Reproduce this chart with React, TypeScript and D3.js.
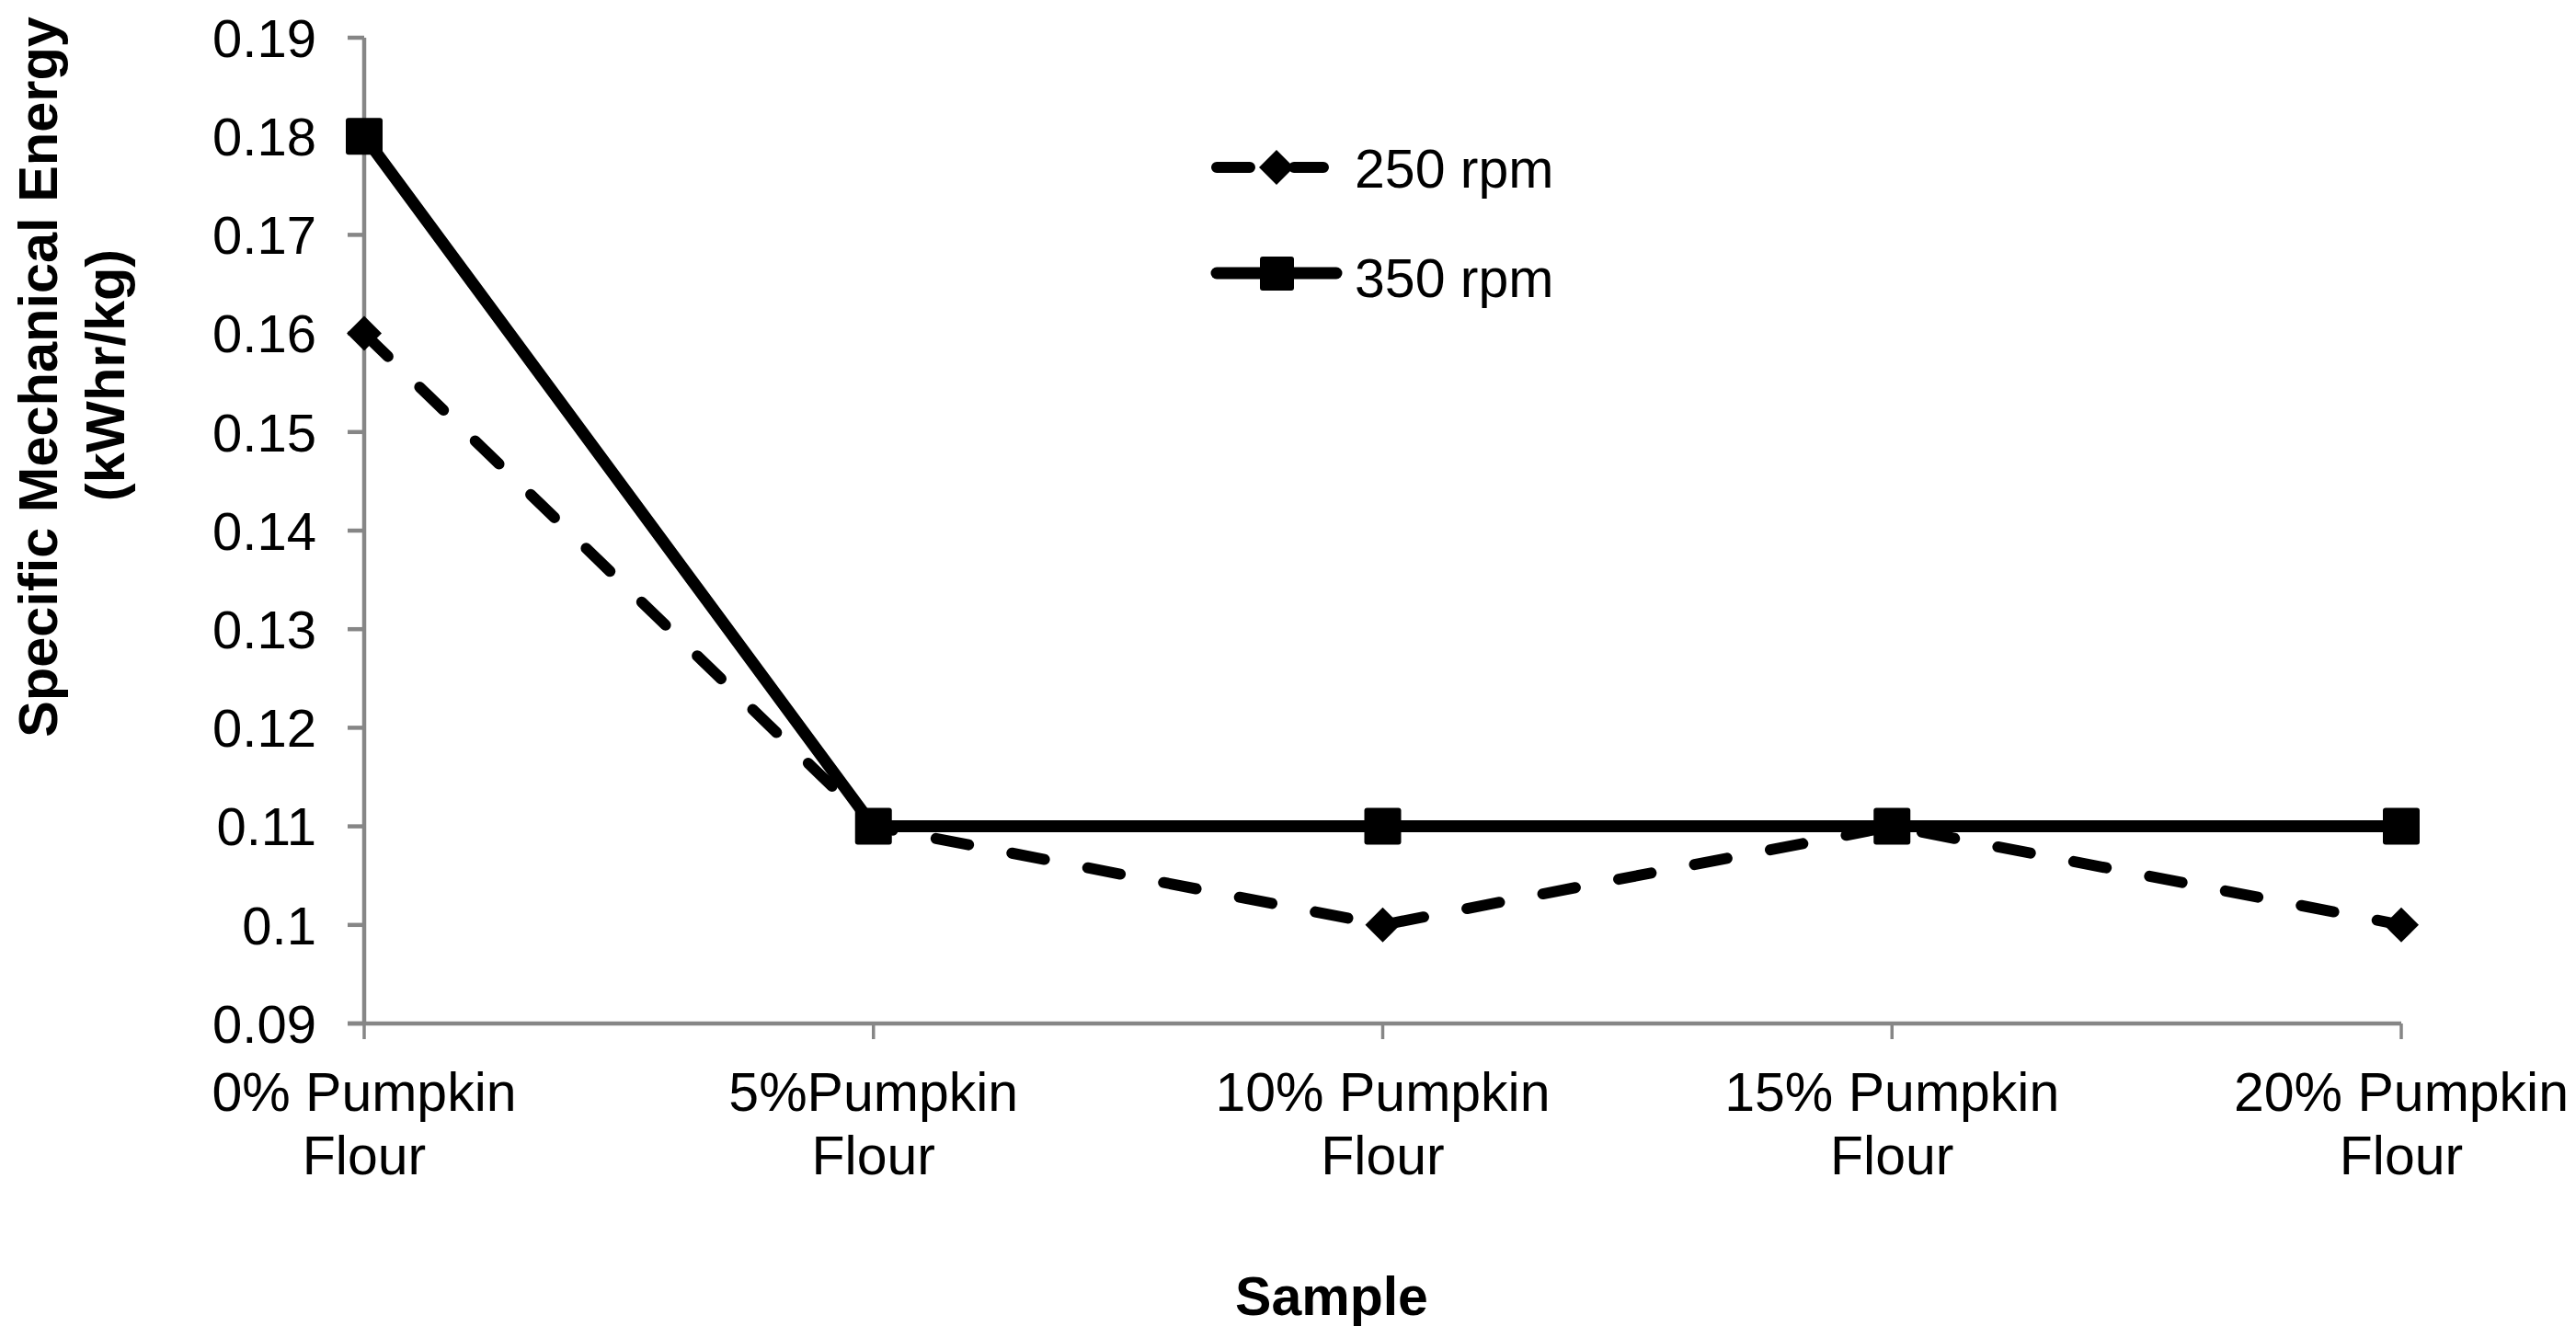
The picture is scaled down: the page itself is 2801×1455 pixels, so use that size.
import React from "react";
import * as d3 from "d3";

const categories = [
  ["0% Pumpkin", "Flour"],
  ["5%Pumpkin", "Flour"],
  ["10% Pumpkin", "Flour"],
  ["15% Pumpkin", "Flour"],
  ["20% Pumpkin", "Flour"],
];
const rpm250 = [0.16, 0.11, 0.1, 0.11, 0.1];
const rpm350 = [0.18, 0.11, 0.11, 0.11, 0.11];
const yTicks = [0.09, 0.1, 0.11, 0.12, 0.13, 0.14, 0.15, 0.16, 0.17, 0.18, 0.19];
const yTickLabels = ["0.09", "0.1", "0.11", "0.12", "0.13", "0.14", "0.15", "0.16", "0.17", "0.18", "0.19"];
const seriesNames = ["250 rpm", "350 rpm"];
const yTitle = ["Specific Mechanical Energy", "(kWhr/kg)"];
const xTitle = "Sample";

const W = 2801;
const H = 1455;
const FONT = "'Liberation Sans', Arial, Helvetica, sans-serif";
const AXIS = "#868686";

export default function App() {
  const idx = categories.map((_, i) => i);
  const x = d3.scalePoint<number>().domain(idx).range([396, 2611]).padding(0);
  const y = d3.scaleLinear().domain([0.09, 0.19]).range([1113, 41]);

  const line = d3
    .line<number>()
    .x((_, i) => x(i) as number)
    .y((d) => y(d));

  const diamond = (cx: number, cy: number, r: number) =>
    `M${cx},${cy - r}L${cx + r},${cy}L${cx},${cy + r}L${cx - r},${cy}Z`;

  const x0 = x(0) as number;
  const xEnd = x(categories.length - 1) as number;
  const yBase = y(0.09);

  return (
    <svg
      width={W}
      height={H}
      style={{ position: "absolute", left: 0, top: 0, background: "#fff" }}
      fontFamily={FONT}
    >
      <rect x={0} y={0} width={W} height={H} fill="#fff" />
      {/* Y axis */}
      <line x1={x0} x2={x0} y1={y(0.19)} y2={yBase + 2} stroke={AXIS} strokeWidth={4.5} />
      {yTicks.map((t, i) => (
        <g key={"yt" + i}>
          <line x1={x0 - 18} x2={x0} y1={y(t)} y2={y(t)} stroke={AXIS} strokeWidth={4.5} />
          <text x={344} y={y(t) + 20.8} textAnchor="end" fontSize={58} fill="#000">
            {yTickLabels[i]}
          </text>
        </g>
      ))}
      {/* X axis */}
      <line x1={x0 - 18} x2={xEnd} y1={yBase} y2={yBase} stroke={AXIS} strokeWidth={4.5} />
      {idx.map((i) => (
        <g key={"xt" + i}>
          <line x1={x(i)} x2={x(i)} y1={yBase} y2={yBase + 17} stroke={AXIS} strokeWidth={3.5} />
          <text x={x(i)} y={1208} textAnchor="middle" fontSize={59} fill="#000">
            {categories[i][0]}
          </text>
          <text x={x(i)} y={1277} textAnchor="middle" fontSize={59} fill="#000">
            {categories[i][1]}
          </text>
        </g>
      ))}
      {/* Axis titles */}
      <text x={1448} y={1430} textAnchor="middle" fontSize={59} fontWeight="bold" fill="#000">
        {xTitle}
      </text>
      <text
        transform={`translate(62,410) rotate(-90)`}
        textAnchor="middle"
        fontSize={59.5}
        fontWeight="bold"
        fill="#000"
      >
        {yTitle[0]}
      </text>
      <text
        transform={`translate(135,408) rotate(-90)`}
        textAnchor="middle"
        fontSize={59.5}
        fontWeight="bold"
        fill="#000"
      >
        {yTitle[1]}
      </text>

      {/* 250 rpm dashed */}
      <path
        d={line(rpm250) || ""}
        fill="none"
        stroke="#000"
        strokeWidth={12}
        strokeLinecap="round"
        strokeLinejoin="round"
        strokeDasharray="36 48"
      />
      {rpm250.map((v, i) => (
        <path key={"d" + i} d={diamond(x(i) as number, y(v), 19)} fill="#000" />
      ))}

      {/* 350 rpm solid */}
      <path
        d={line(rpm350) || ""}
        fill="none"
        stroke="#000"
        strokeWidth={13}
        strokeLinejoin="round"
      />
      {rpm350.map((v, i) => (
        <rect
          key={"s" + i}
          x={(x(i) as number) - 20}
          y={y(v) - 20}
          width={40}
          height={40}
          rx={3}
          fill="#000"
        />
      ))}

      {/* Legend */}
      <line
        x1={1323}
        x2={1439}
        y1={182}
        y2={182}
        stroke="#000"
        strokeWidth={12}
        strokeLinecap="round"
        strokeDasharray="36 48"
      />
      <path d={diamond(1388, 182, 19)} fill="#000" />
      <text x={1473} y={204} fontSize={59} fill="#000">
        {seriesNames[0]}
      </text>
      <line x1={1323} x2={1453} y1={297} y2={297} stroke="#000" strokeWidth={13} strokeLinecap="round" />
      <rect x={1370} y={279} width={37} height={37} rx={3} fill="#000" />
      <text x={1473} y={323} fontSize={59} fill="#000">
        {seriesNames[1]}
      </text>
    </svg>
  );
}
